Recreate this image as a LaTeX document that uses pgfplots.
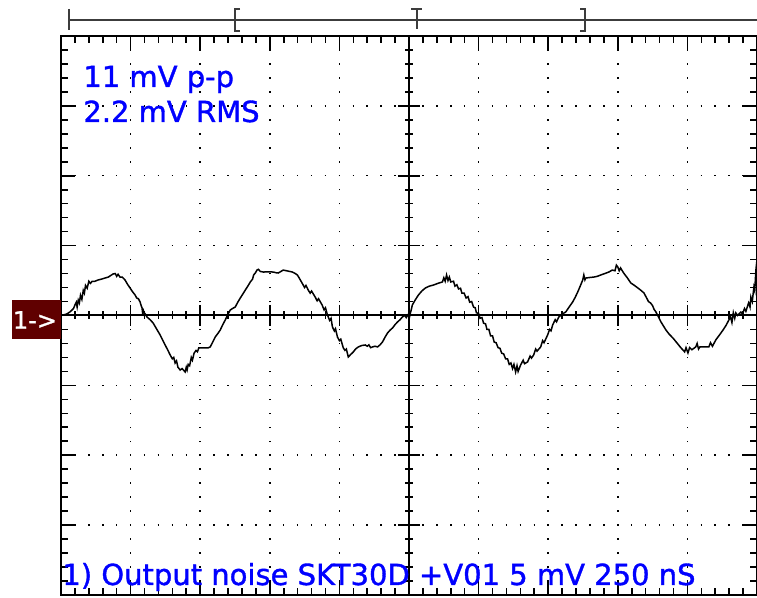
\documentclass[border=0pt]{standalone}
\usepackage{pgfplots}
\pgfplotsset{compat=1.18}
\usepackage{fontspec}
\newfontfamily\scopefont[FakeBold=1.2]{DejaVu Sans}
\definecolor{scopeblue}{RGB}{0,0,255}
\definecolor{chmark}{RGB}{96,0,0}
\definecolor{ruler}{RGB}{60,60,60}

% trace: time in ns, amplitude in mV (5 mV/div, 250 ns/div)
\pgfplotstableread{
t v
0 0.0
20 0.1
32 0.25
45 0.5
50 0.75
55 0.95
58 0.6
62 1.1
66 0.9
70 1.45
75 1.15
80 1.8
84 1.6
88 2.15
94 1.95
100 2.45
106 2.3
112 2.45
122 2.45
133 2.54
145 2.6
158 2.68
170 2.75
187 2.97
195 3.0
200 2.8
205 2.95
212 2.75
220 2.75
230 2.54
240 2.2
248 1.97
257 1.7
266 1.47
272 1.25
278 1.2
284 0.97
288 0.7
291 0.55
293 0.2
296 0.35
300 0.0
303 0.1
309 -0.11
320 -0.3
331 -0.54
343 -0.95
356 -1.39
365 -1.75
374 -2.11
383 -2.45
392 -2.82
400 -3.1
405 -3.0
410 -3.4
415 -3.25
420 -3.7
428 -3.9
435 -3.8
446 -4.04
450 -3.7
453 -3.9
457 -3.5
462 -3.6
468 -3.0
472 -3.2
478 -2.7
485 -2.5
490 -2.6
495 -2.32
510 -2.32
528 -2.32
536 -2.25
545 -1.9
554 -1.54
563 -1.3
572 -1.04
580 -0.7
590 -0.32
600 0.1
608 0.39
616 0.5
626 0.61
635 0.95
644 1.25
652 1.5
662 1.82
671 2.1
680 2.4
688 2.6
692 2.9
698 3.04
704 3.25
709 3.3
716 3.15
727 3.11
745 3.12
763 3.11
772 3.06
780 3.04
790 3.15
798 3.25
815 3.18
831 3.11
840 3.02
849 2.90
858 2.6
866 2.32
875 2.0
880 2.15
888 1.82
895 1.6
900 1.75
913 1.32
920 1.05
925 1.2
938 0.75
945 0.4
950 0.55
957 0.04
965 -0.35
970 -0.2
975 -0.82
982 -1.1
986 -0.95
993 -1.54
1000 -1.8
1005 -1.7
1014 -2.32
1020 -2.5
1025 -2.4
1032 -2.97
1040 -2.8
1050 -2.61
1058 -2.4
1068 -2.25
1080 -2.15
1093 -2.11
1100 -2.2
1106 -2.1
1112 -2.3
1119 -2.25
1128 -2.2
1137 -2.25
1146 -2.1
1155 -1.89
1164 -1.55
1173 -1.25
1182 -1.05
1191 -0.89
1200 -0.65
1209 -0.46
1218 -0.3
1226 -0.11
1235 0.0
1240 -0.15
1248 0.1
1252 -0.1
1255 0.18
1258 0.4
1262 0.75
1272 1.1
1284 1.47
1296 1.75
1309 1.97
1323 2.1
1338 2.18
1354 2.3
1370 2.40
1375 2.7
1380 2.45
1385 2.9
1390 2.5
1395 2.75
1400 2.4
1410 2.45
1415 2.1
1422 2.2
1428 1.9
1435 1.95
1440 1.6
1448 1.6
1455 1.25
1462 1.35
1468 0.95
1475 1.0
1482 0.6
1488 0.55
1492 0.2
1500 0.15
1505 -0.2
1512 -0.15
1518 -0.55
1525 -0.6
1530 -1.0
1537 -1.0
1543 -1.45
1550 -1.45
1556 -1.9
1563 -1.95
1570 -2.3
1577 -2.35
1583 -2.7
1590 -2.75
1597 -3.1
1604 -3.1
1610 -3.5
1616 -3.4
1622 -3.8
1627 -3.5
1633 -4.04
1638 -3.6
1642 -4.0
1651 -3.54
1660 -3.2
1665 -3.45
1676 -3.32
1685 -2.9
1690 -3.05
1698 -2.82
1705 -2.4
1710 -2.55
1723 -2.25
1730 -1.8
1735 -1.95
1748 -1.39
1755 -1.0
1760 -1.1
1766 -0.68
1775 -0.3
1780 -0.45
1788 -0.11
1800 0.1
1813 0.25
1825 0.6
1838 0.97
1847 1.3
1856 1.68
1865 2.1
1874 2.54
1878 2.9
1882 2.55
1885 2.68
1900 2.72
1914 2.75
1926 2.8
1939 2.90
1953 3.0
1968 3.11
1980 3.25
1990 3.2
1995 3.6
2000 3.47
2005 3.2
2010 3.4
2021 3.04
2034 2.7
2047 2.32
2060 2.15
2072 1.97
2083 1.8
2094 1.61
2105 1.2
2110 1.0
2118 0.89
2125 0.7
2130 0.45
2137 0.25
2146 -0.1
2155 -0.46
2164 -0.75
2173 -1.04
2185 -1.35
2198 -1.61
2212 -1.95
2227 -2.32
2240 -2.6
2245 -2.3
2252 -2.68
2258 -2.3
2266 -2.45
2280 -2.25
2285 -2.0
2290 -2.4
2295 -2.25
2306 -2.25
2318 -2.25
2327 -2.25
2333 -1.95
2340 -2.2
2352 -1.75
2365 -1.4
2378 -1.04
2389 -0.7
2399 -0.32
2405 -0.1
2410 -0.5
2415 0.2
2420 -0.2
2424 0.18
2430 0.0
2442 0.25
2448 0.1
2455 0.5
2460 0.3
2470 0.9
2475 0.6
2478 1.32
2483 1.0
2489 2.04
2492 1.8
2496 3.25
2500 3.97
}\trace

\begin{document}
\begin{tikzpicture}
\path[use as bounding box] (0,0) rectangle (378.5pt,299pt);
\begin{axis}[
  scale only axis, width=348pt, height=279.5pt,
  at={(30.5pt,1.5pt)}, anchor=south west,
  xmin=0, xmax=2500, ymin=-20, ymax=20,
  xtick={0,250,...,2500}, ytick={-20,-15,...,20},
  minor x tick num=4, minor y tick num=4,
  xticklabels={}, yticklabels={},
  tick align=inside, major tick length=7pt, minor tick length=3.5pt,
  tick style={black, line width=0.8pt},
  axis line style={black, line width=1pt},
  grid=major,
  x grid style={black, line width=0.75pt, dash pattern=on 0.75pt off 6.2375pt, dash phase=0.375pt},
  y grid style={black, line width=0.75pt, dash pattern=on 0.75pt off 6.21pt, dash phase=0.375pt},
]
\addplot[black, line width=0.75pt] table[x=t, y=v] {\trace};
\end{axis}

% screen furniture in pixel units (y down from the top)
\begin{scope}[shift={(0,299pt)}, x=0.5pt, y=-0.5pt]
  % centre graticule with cross ticks
  \draw[line width=1pt] (61,315.5) -- (757,315.5);
  \draw[line width=1pt] (409,36) -- (409,595);
  \foreach \k in {1,...,49} {\draw[line width=0.8pt] ({61+\k*13.92},311.5) -- ({61+\k*13.92},319.5);}
  \foreach \k in {1,...,9} {\draw[line width=0.8pt] ({61+\k*69.6},305) -- ({61+\k*69.6},326);}
  \foreach \k in {1,...,39} {\draw[line width=0.8pt] (405,{36+\k*13.975}) -- (413,{36+\k*13.975});}
  \foreach \k in {1,...,7} {\draw[line width=0.8pt] (398,{36+\k*69.875}) -- (420,{36+\k*69.875});}
  % record ruler on top
  \draw[ruler, line width=1pt] (69,20) -- (757,20);
  \draw[ruler, line width=1pt] (69,9) -- (69,30);
  \draw[ruler, line width=1pt] (240,9) -- (235,9) -- (235,31) -- (240,31);
  \draw[ruler, line width=1pt] (411,9) -- (422,9) (416.5,9) -- (416.5,29);
  \draw[ruler, line width=1pt] (580,9) -- (585,9) -- (585,31) -- (580,31);
  % channel marker
  \fill[chmark] (12,300) rectangle (61,339);
  \node[white, font=\scopefont\fontsize{12}{14}\selectfont, inner sep=0] at (35,320) {1->};
  % readouts
  \begin{scope}[scopeblue, every node/.style={anchor=base west, inner sep=0, font=\scopefont\fontsize{14.5}{17}\selectfont}]
    \node at (83,87) {11 mV p-p};
    \node at (83,122) {2.2 mV RMS};
    \node at (62,585) {1) Output noise SKT30D +V01 5 mV 250 nS};
  \end{scope}
\end{scope}
\end{tikzpicture}
\end{document}
